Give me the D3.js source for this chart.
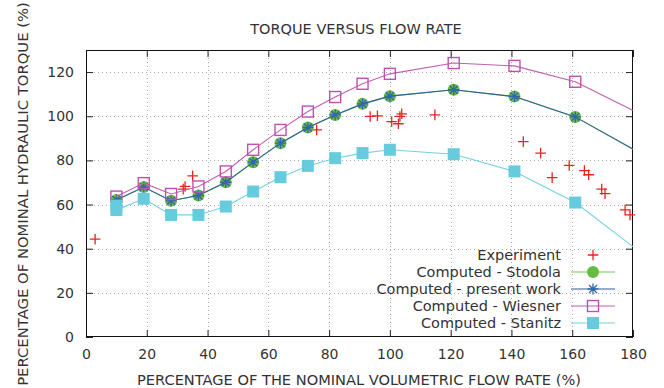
<!DOCTYPE html>
<html><head><meta charset="utf-8">
<script src="https://cdn.jsdelivr.net/npm/d3@7"></script>
<style>
body{margin:0;background:#fff}
svg{display:block}
text{font-family:"DejaVu Sans",sans-serif;fill:#333}
</style>
</head><body>
<svg id="chart" width="664" height="388"></svg>
<script>
// ---- data ----
const xTicks = [0,20,40,60,80,100,120,140,160,180];
const yTicks = [0,20,40,60,80,100,120];
const flowComputed = [10,19,28,37,46,55,64,73,82,91,100,121,141,161,201];
const stodola      = [62.1,67.9,61.7,64.1,70.1,79.2,87.8,94.9,100.6,105.6,109.1,112.0,108.9,99.7,69.0];
const presentWork  = [62.1,67.9,61.7,64.1,70.1,79.2,87.8,94.9,100.6,105.6,109.1,112.0,108.9,99.7,69.0];
const wiesner      = [63.6,69.7,64.8,68.2,75.0,84.8,93.8,102.1,108.7,114.7,119.2,124.1,122.8,115.6,88.4];
const flowStanitz  = [10,10,19,28,37,46,55,64,73,82,91,100,121,141,161,201];
const stanitz      = [59.5,57.5,62.6,55.3,55.3,59.1,65.9,72.4,77.5,81.0,83.3,84.8,82.8,75.0,60.9,18.9];
const expFlow   = [3.0,32.0,32.6,35.1,75.9,93.5,95.9,100.6,102.8,103.3,103.9,114.8,143.9,149.6,153.4,159.0,164.0,165.4,169.7,170.8,177.4,179.0];
const expTorque = [44.3,67.0,68.2,73.0,93.8,99.9,100.2,97.6,96.6,99.9,101.1,100.6,88.5,83.3,72.2,77.7,75.4,73.5,67.0,64.9,57.6,55.3];
const seriesNames = ["Experiment","Computed - Stodola","Computed - present work","Computed - Wiesner","Computed - Stanitz"];
const titleText = "TORQUE VERSUS FLOW RATE";
const xLabel = "PERCENTAGE OF THE NOMINAL VOLUMETRIC FLOW RATE (%)";
const yLabel = "PERCENTAGE OF NOMINAL HYDRAULIC TORQUE (%)";

// ---- layout ----
const L = 86, R = 633, T = 50, B = 337;
const svg = d3.select("#chart");
const x = d3.scaleLinear().domain([0,180]).range([L,R]);
const y = d3.scaleLinear().domain([0,130]).range([B,T]);

const col = {
  exp: "#ee2222",
  stod: "#66bb44", stodLine: "#77cc55",
  pres: "#3366aa", presLine: "#2d5f9a",
  wies: "#c050b0", wiesLine: "#c060b0",
  stan: "#66ccdd", stanLine: "#77d0e0"
};

svg.append("defs").append("clipPath").attr("id","clip")
  .append("rect").attr("x",L).attr("y",T).attr("width",R-L).attr("height",B-T);

// grid
const grid = svg.append("g").attr("stroke","#aaa").attr("stroke-width",1).attr("stroke-dasharray","1,3");
xTicks.filter(t=>t>0&&t<180).forEach(t=>{
  grid.append("line").attr("x1",Math.round(x(t))+0.5).attr("x2",Math.round(x(t))+0.5).attr("y1",T).attr("y2",B);
});
yTicks.filter(t=>t>0).forEach(t=>{
  grid.append("line").attr("y1",Math.round(y(t))+0.5).attr("y2",Math.round(y(t))+0.5).attr("x1",L).attr("x2",R);
});

// axes
const tl = 7;
const gB = svg.append("g").attr("transform",`translate(0,${B})`)
  .call(d3.axisBottom(x).tickValues(xTicks).tickSize(-tl).tickPadding(12).tickFormat(d3.format("d")));
const gT = svg.append("g").attr("transform",`translate(0,${T})`)
  .call(d3.axisTop(x).tickValues(xTicks).tickSize(-tl).tickFormat(""));
const gL = svg.append("g").attr("transform",`translate(${L},0)`)
  .call(d3.axisLeft(y).tickValues(yTicks).tickSize(-tl).tickPadding(12).tickFormat(d3.format("d")));
const gR = svg.append("g").attr("transform",`translate(${R},0)`)
  .call(d3.axisRight(y).tickValues(yTicks).tickSize(-tl).tickFormat(""));
[gB,gT,gL,gR].forEach(g=>{
  g.select(".domain").remove();
  g.selectAll(".tick line").attr("stroke","#222");
  g.selectAll(".tick text").attr("font-size",14).attr("fill","#333").attr("font-family","DejaVu Sans, sans-serif");
});
svg.append("rect").attr("x",L+0.5).attr("y",T+0.5).attr("width",R-L-1).attr("height",B-T-1)
  .attr("fill","none").attr("stroke","#111").attr("stroke-width",1);

// markers
function plus(g,cx,cy,s,c){
  g.append("path").attr("d",`M${cx-s},${cy}H${cx+s}M${cx},${cy-s}V${cy+s}`)
    .attr("stroke",c).attr("stroke-width",1.3).attr("fill","none");
}
function star(g,cx,cy,s,c){
  const d = s*0.72;
  g.append("path").attr("d",`M${cx-s},${cy}H${cx+s}M${cx},${cy-s}V${cy+s}M${cx-d},${cy-d}L${cx+d},${cy+d}M${cx-d},${cy+d}L${cx+d},${cy-d}`)
    .attr("stroke",c).attr("stroke-width",1.3).attr("fill","none");
}
function circ(g,cx,cy,r,c){
  g.append("circle").attr("cx",cx).attr("cy",cy).attr("r",r).attr("fill",c);
}
function osq(g,cx,cy,s,c){
  g.append("rect").attr("x",cx-s).attr("y",cy-s).attr("width",2*s).attr("height",2*s)
    .attr("fill","none").attr("stroke",c).attr("stroke-width",1.4);
}
function fsq(g,cx,cy,s,c){
  g.append("rect").attr("x",cx-s).attr("y",cy-s).attr("width",2*s).attr("height",2*s).attr("fill",c);
}

const plot = svg.append("g");
const line = d3.line().x(d=>x(d[0])).y(d=>y(d[1]));
function drawSeries(xs,ys,lc,mk,mc,s){
  const pts = xs.map((v,i)=>[v,ys[i]]);
  plot.append("path").datum(pts).attr("d",line).attr("fill","none")
    .attr("stroke",lc).attr("stroke-width",1.1).attr("clip-path","url(#clip)");
  const g = plot.append("g");
  pts.filter(p=>p[0]<=180).forEach(p=>mk(g,x(p[0]),y(p[1]),s,mc));
}

// experiment
const ge = plot.append("g");
expFlow.forEach((v,i)=>plus(ge,x(v),y(expTorque[i]),5.3,col.exp));
drawSeries(flowComputed,stodola,col.stodLine,circ,col.stod,6);
drawSeries(flowComputed,presentWork,col.presLine,star,col.pres,5.5);
drawSeries(flowComputed,wiesner,col.wiesLine,osq,col.wies,5.5);
drawSeries(flowStanitz,stanitz,col.stanLine,fsq,col.stan,6);

// legend
const leg = svg.append("g");
const legY = [255,272,289,306,323];
const mks = [
  g=>plus(g,593,legY[0],5.3,col.exp),
  g=>circ(g,593,legY[1],6,col.stod),
  g=>star(g,593,legY[2],5.5,col.pres),
  g=>osq(g,593,legY[3],5.5,col.wies),
  g=>fsq(g,593,legY[4],6,col.stan)
];
const lcs = [null,col.stodLine,col.presLine,col.wiesLine,col.stanLine];
seriesNames.forEach((n,i)=>{
  leg.append("text").attr("x",561).attr("y",legY[i]).attr("dy","0.35em")
    .attr("text-anchor","end").attr("font-size",14.5).attr("fill","#222").text(n);
  if(lcs[i]) leg.append("line").attr("x1",571).attr("x2",615).attr("y1",legY[i]).attr("y2",legY[i])
    .attr("stroke",lcs[i]).attr("stroke-width",1.1);
  mks[i](leg);
});

// titles
svg.append("text").attr("x",356).attr("y",29).attr("dy","0.35em").attr("text-anchor","middle")
  .attr("font-size",14.5).attr("fill","#222").text(titleText);
svg.append("text").attr("x",359).attr("y",380).attr("dy","0.35em").attr("text-anchor","middle")
  .attr("font-size",14.6).attr("fill","#222").text(xLabel);
svg.append("text").attr("transform","translate(23,194) rotate(-90)").attr("dy","0.35em")
  .attr("text-anchor","middle").attr("font-size",14.8).attr("fill","#222").text(yLabel);
</script>
</body></html>
